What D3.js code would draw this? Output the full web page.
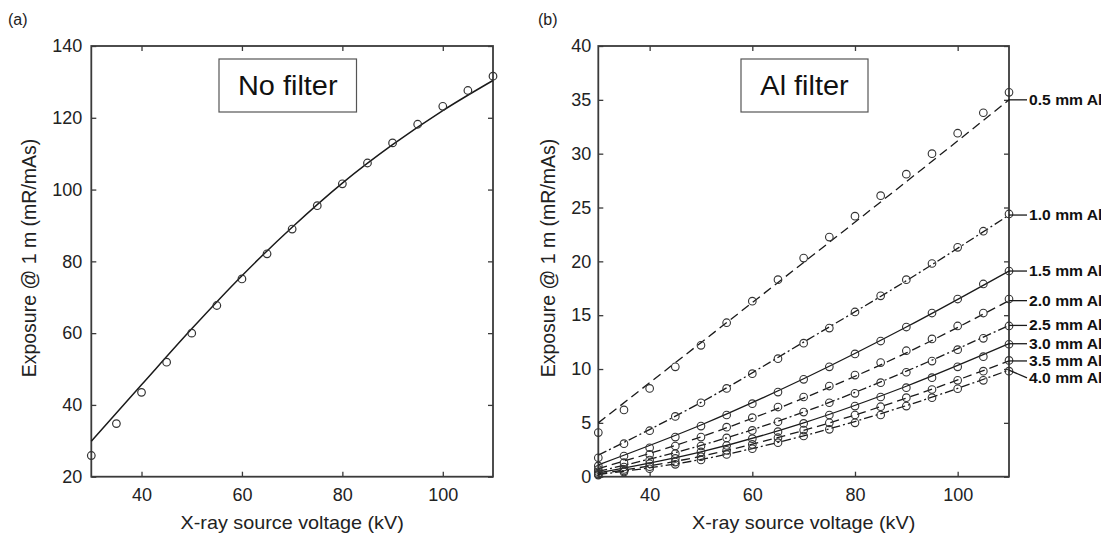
<!DOCTYPE html>
<html><head><meta charset="utf-8">
<script src="https://cdn.jsdelivr.net/npm/d3@7"></script>
<style>
html,body{margin:0;padding:0;background:#fff;}
svg{display:block;font-family:"Liberation Sans",Arial,sans-serif;}
</style></head>
<body>
<svg id="chart" width="1101" height="541"></svg>
<script>
// ---------- data ----------
const kV = [30, 35, 40, 45, 50, 55, 60, 65, 70, 75, 80, 85, 90, 95, 100, 105, 110];
const xTicks = [40, 60, 80, 100];

// (a) No filter
const noFilter = [25.9, 34.8, 43.5, 51.9, 60.0, 67.7, 75.1, 82.1, 89.0, 95.5, 101.6, 107.4, 113.0, 118.2, 123.2, 127.6, 131.6];
const noFilterFitKV = [30, 40, 50, 60, 70, 80, 90, 100, 110];
const noFilterFit = [29.9, 45.6, 61.2, 76.0, 89.5, 101.8, 112.5, 122.0, 130.4];
const yTicksA = [20, 40, 60, 80, 100, 120, 140];

// (b) Al filter
const alLabels = ["0.5 mm Al", "1.0 mm Al", "1.5 mm Al", "2.0 mm Al", "2.5 mm Al", "3.0 mm Al", "3.5 mm Al", "4.0 mm Al"];
const al05 = [4.1, 6.2, 8.2, 10.2, 12.2, 14.3, 16.3, 18.3, 20.3, 22.25, 24.2, 26.1, 28.1, 30.0, 31.9, 33.8, 35.7];
const al10 = [1.76, 3.07, 4.27, 5.6, 6.87, 8.2, 9.57, 10.96, 12.4, 13.8, 15.3, 16.8, 18.3, 19.8, 21.3, 22.8, 24.4];
const al15 = [1.0, 1.92, 2.69, 3.68, 4.7, 5.73, 6.78, 7.86, 9.04, 10.2, 11.4, 12.6, 13.9, 15.2, 16.5, 17.9, 19.1];
const al20 = [0.68, 1.3, 2.07, 2.85, 3.68, 4.6, 5.48, 6.47, 7.4, 8.42, 9.44, 10.6, 11.7, 12.8, 14.0, 15.2, 16.5];
const al25 = [0.46, 0.9, 1.55, 2.14, 2.85, 3.6, 4.3, 5.1, 6.0, 6.87, 7.74, 8.73, 9.7, 10.74, 11.8, 12.85, 14.0];
const al30 = [0.3, 0.68, 1.2, 1.7, 2.3, 2.9, 3.53, 4.18, 4.95, 5.73, 6.56, 7.4, 8.27, 9.2, 10.2, 11.15, 12.3];
const al35 = [0.22, 0.53, 0.93, 1.36, 1.86, 2.45, 3.0, 3.62, 4.33, 5.0, 5.73, 6.5, 7.34, 8.1, 8.95, 9.8, 10.8];
const al40 = [0.15, 0.43, 0.74, 1.15, 1.55, 2.07, 2.6, 3.16, 3.78, 4.4, 5.0, 5.73, 6.56, 7.34, 8.17, 8.95, 9.8];
const alFitKV = [30, 50, 70, 90, 110];
const fit05 = [5.0, 12.45, 19.9, 27.4, 35.0];
const fit10 = [2.0, 6.9, 12.5, 18.2, 24.3];
const fit15 = [1.1, 4.8, 9.1, 13.9, 19.1];
const fit20 = [0.75, 3.7, 7.3, 11.5, 16.35];
const fit25 = [0.5, 2.9, 6.0, 9.8, 14.05];
const fit30 = [0.35, 2.3, 5.0, 8.4, 12.35];
const fit35 = [0.25, 1.9, 4.3, 7.3, 10.75];
const fit40 = [0.2, 1.6, 3.8, 6.6, 9.9];
const yTicksB = [0, 5, 10, 15, 20, 25, 30, 35, 40];
const lineStyles = ["dashed", "dashdot", "solid", "dashed", "dashdot", "solid", "dashed", "dashdot"];

const alPoints = [al05, al10, al15, al20, al25, al30, al35, al40];
const alFits = [fit05, fit10, fit15, fit20, fit25, fit30, fit35, fit40];

// ---------- drawing ----------
const svg = d3.select("#chart");
const FRAME = "#3a3a3a";
const INK = "#1a1a1a";
const dashMap = {solid: null, dashed: "9,5", dashdot: "9,3,2,3"};

function panel(o) {
  const x = d3.scaleLinear().domain([30, 110]).range([o.x0, o.x1]);
  const y = d3.scaleLinear().domain(o.yDomain).range([o.y1, o.y0]);
  const g = svg.append("g");
  const tk = 5;
  const styleAxis = sel => {
    sel.select(".domain").remove();
    sel.selectAll(".tick line").attr("stroke", FRAME).attr("stroke-width", 1.3);
    sel.selectAll(".tick text").attr("fill", "#222").style("font-size", "18px")
       .style("font-family", '"Liberation Sans",Arial,sans-serif');
  };
  g.append("g").attr("transform", `translate(0,${o.y1})`)
    .call(d3.axisBottom(x).tickValues(xTicks).tickSize(-tk).tickPadding(12).tickFormat(d3.format("d")))
    .call(styleAxis);
  g.append("g").attr("transform", `translate(0,${o.y0})`)
    .call(d3.axisTop(x).tickValues(xTicks).tickSize(-tk).tickFormat(""))
    .call(styleAxis);
  g.append("g").attr("transform", `translate(${o.x0},0)`)
    .call(d3.axisLeft(y).tickValues(o.yTicks).tickSize(-tk).tickPadding(o.yPad).tickFormat(d3.format("d")))
    .call(styleAxis);
  g.append("g").attr("transform", `translate(${o.x1},0)`)
    .call(d3.axisRight(y).tickValues(o.yTicks).tickSize(-tk).tickFormat(""))
    .call(styleAxis);
  g.append("rect").attr("x", o.x0).attr("y", o.y0)
    .attr("width", o.x1 - o.x0).attr("height", o.y1 - o.y0)
    .attr("fill", "none").attr("stroke", FRAME).attr("stroke-width", 1.8);
  // axis titles
  g.append("text").attr("transform", `translate(${(o.x0 + o.x1) / 2},529) scale(1.1,1)`)
    .attr("text-anchor", "middle").style("font-size", "18px").attr("fill", "#222")
    .text("X-ray source voltage (kV)");
  g.append("text").attr("transform", `translate(${o.yTitleX},258) rotate(-90)`)
    .attr("text-anchor", "middle").attr("dy", "0.35em").style("font-size", "19.5px").attr("fill", "#222")
    .text("Exposure @ 1 m (mR/mAs)");
  // panel letter
  g.append("text").attr("x", o.letterX).attr("y", 25).style("font-size", "16px").attr("fill", "#222").text(o.letter);
  // box
  g.append("rect").attr("x", o.box[0]).attr("y", o.box[1]).attr("width", o.box[2]).attr("height", o.box[3])
    .attr("fill", "#fff").attr("stroke", "#555").attr("stroke-width", 1.2);
  g.append("text").attr("transform", `translate(${o.box[0] + o.box[2] / 2},${o.box[1] + o.box[3] / 2}) scale(1.07,1)`)
    .attr("dy", "0.36em").attr("text-anchor", "middle").style("font-size", "27px").attr("fill", "#111")
    .text(o.boxText);
  return {g, x, y};
}

// Panel (a)
const A = panel({x0: 91.3, x1: 493, y0: 46, y1: 476.7, yDomain: [20, 140], yTicks: yTicksA, yPad: 9,
  yTitleX: 29, letter: "(a)", letterX: 8, box: [219, 59, 137.5, 53], boxText: "No filter"});
const lineA = d3.line().x((d, i) => A.x(noFilterFitKV[i])).y(d => A.y(d)).curve(d3.curveMonotoneX);
A.g.append("path").datum(noFilterFit).attr("d", lineA).attr("fill", "none")
  .attr("stroke", INK).attr("stroke-width", 1.5);
A.g.selectAll("circle.pt").data(noFilter).join("circle").attr("class", "pt")
  .attr("cx", (d, i) => A.x(kV[i])).attr("cy", d => A.y(d)).attr("r", 3.8)
  .attr("fill", "none").attr("stroke", "#333").attr("stroke-width", 1.2);

// Panel (b)
const B = panel({x0: 598.3, x1: 1009, y0: 46, y1: 476.7, yDomain: [0, 40], yTicks: yTicksB, yPad: 7,
  yTitleX: 548, letter: "(b)", letterX: 538, box: [741, 59, 127, 53], boxText: "Al filter"});
const lineB = d3.line().x((d, i) => B.x(alFitKV[i])).y(d => B.y(d)).curve(d3.curveMonotoneX);
alFits.forEach((f, s) => {
  B.g.append("path").datum(f).attr("d", lineB).attr("fill", "none")
    .attr("stroke", INK).attr("stroke-width", 1.3)
    .attr("stroke-dasharray", dashMap[lineStyles[s]]);
});
alPoints.forEach((p, s) => {
  B.g.append("g").selectAll("circle").data(p).join("circle")
    .attr("cx", (d, i) => B.x(kV[i])).attr("cy", d => B.y(d)).attr("r", 3.8)
    .attr("fill", "none").attr("stroke", "#333").attr("stroke-width", 1.1);
});
// right-side labels with leader lines
let prevY = -Infinity;
alFits.forEach((f, s) => {
  const endY = B.y(f[f.length - 1]);
  const ly = Math.max(endY, prevY + 17);
  prevY = ly;
  B.g.append("line").attr("x1", B.x(110)).attr("y1", endY).attr("x2", 1027).attr("y2", ly)
    .attr("stroke", INK).attr("stroke-width", 1.3);
  B.g.append("text").attr("transform", `translate(1029,${ly}) scale(1.12,1)`).attr("dy", "0.36em")
    .style("font-size", "14px").style("font-weight", "bold").attr("fill", "#111")
    .text(alLabels[s]);
});
</script>
</body></html>
